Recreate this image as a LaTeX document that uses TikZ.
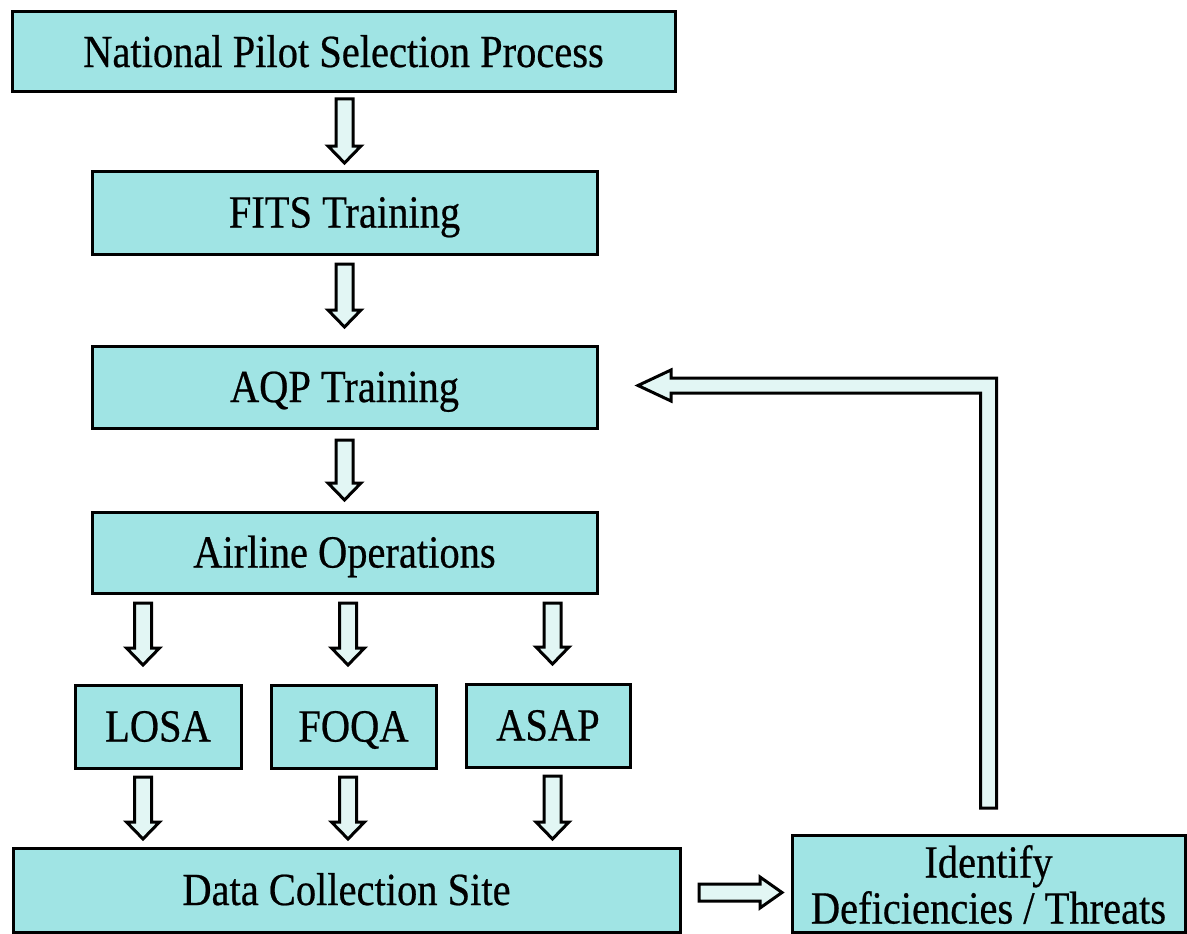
\documentclass[tikz,border=0pt]{standalone}
\usepackage{fontspec}
\setmainfont[FakeStretch=0.88, FakeBold=0.5]{Liberation Serif}
\usetikzlibrary{calc}

\definecolor{boxcyan}{RGB}{160,228,228}
\definecolor{arrowcyan}{RGB}{226,246,244}

\tikzset{
  box/.style={draw=black, line width=3pt, fill=boxcyan, inner sep=0pt, outer sep=0pt,
    align=center, text height=30pt, text depth=0pt, font=\fontsize{46}{46}\selectfont},
  fatarrow/.style={draw=black, line width=3pt, fill=arrowcyan, line join=miter}
}

% block arrow down: #1 x reference, #2 upper node, #3 lower node, #4 top gap, #5 tip gap
\newcommand{\fatdown}[5]{%
  \draw[fatarrow] let \p1=($(#1 |- #2.south)+(0,#4)$), \p2=($(#1 |- #3.north)+(0,-#5)$) in
    (\x1-8.5pt,\y1) -- (\x1-8.5pt,\y2+17pt) -- (\x1-16.5pt,\y2+17pt) -- (\x1,\y2)
    -- (\x1+16.5pt,\y2+17pt) -- (\x1+8.5pt,\y2+17pt) -- (\x1+8.5pt,\y1) -- cycle;}

\begin{document}
\begin{tikzpicture}[x=1pt, y=-1pt]
    \useasboundingbox (0,0) rectangle (1187,934);

    % Main chain
    \node[box, minimum width=663pt, minimum height=80pt] (nps) at (343.5,52) {National Pilot Selection Process};
    \node[box, minimum width=505pt, minimum height=83pt] (fits) at (344.5,212.5) {FITS Training};
    \node[box, minimum width=505pt, minimum height=82pt] (aqp) at (344.5,387) {AQP Training};
    \node[box, minimum width=505pt, minimum height=81pt] (ops) at (344.5,552.5) {Airline Operations};

    % Data programs
    \node[box, minimum width=166pt, minimum height=83pt] (losa) at (158,726.5) {LOSA};
    \node[box, minimum width=165pt, minimum height=83pt] (foqa) at (353.5,726.5) {FOQA};
    \node[box, minimum width=164pt, minimum height=83pt] (asap) at (548,725.5) {ASAP};

    % Bottom row
    \node[box, minimum width=667pt, minimum height=84pt] (dcs) at (346.5,890) {Data Collection Site};
    \node[box, minimum width=393pt, minimum height=97pt, text height=80pt] (ident) at (988.5,883.5) {Identify\\Deficiencies / Threats};

    % Arrow columns
    \coordinate (c1) at (143,0);
    \coordinate (c2) at (348,0);
    \coordinate (c3) at (552.5,0);

    % Down arrows
    \fatdown{fits}{nps}{fits}{7}{8}
    \fatdown{aqp}{fits}{aqp}{10}{19}
    \fatdown{ops}{aqp}{ops}{12}{12}
    \foreach \col/\prog in {c1/losa, c2/foqa, c3/asap} {
        \fatdown{\col}{ops}{\prog}{10}{20}
        \fatdown{\col}{\prog}{dcs}{9}{9}
    }

    % Arrow to identify box
    \draw[fatarrow] let \p1=($(dcs.east)+(19,2.5)$), \p2=($(ident.west)+(-10,0)$) in
        (\x1,\y1+8.5pt) -- (\x2-22pt,\y1+8.5pt) -- (\x2-22pt,\y1+15.5pt) -- (\x2,\y1)
        -- (\x2-22pt,\y1-15.5pt) -- (\x2-22pt,\y1-8.5pt) -- (\x1,\y1-8.5pt) -- cycle;

    % Feedback arrow back to AQP training
    \draw[fatarrow] let \p1=($(ident.north)+(0,-27)$), \p2=($(aqp.east)+(41,-1.5)$) in
        (\x1-8pt,\y1) -- (\x1-8pt,\y2-7.5pt) -- (\x2+33pt,\y2-7.5pt) -- (\x2+33pt,\y2-15.5pt)
        -- (\x2,\y2) -- (\x2+33pt,\y2+15.5pt) -- (\x2+33pt,\y2+7.5pt) -- (\x1+8pt,\y2+7.5pt)
        -- (\x1+8pt,\y1) -- cycle;
\end{tikzpicture}
\end{document}
